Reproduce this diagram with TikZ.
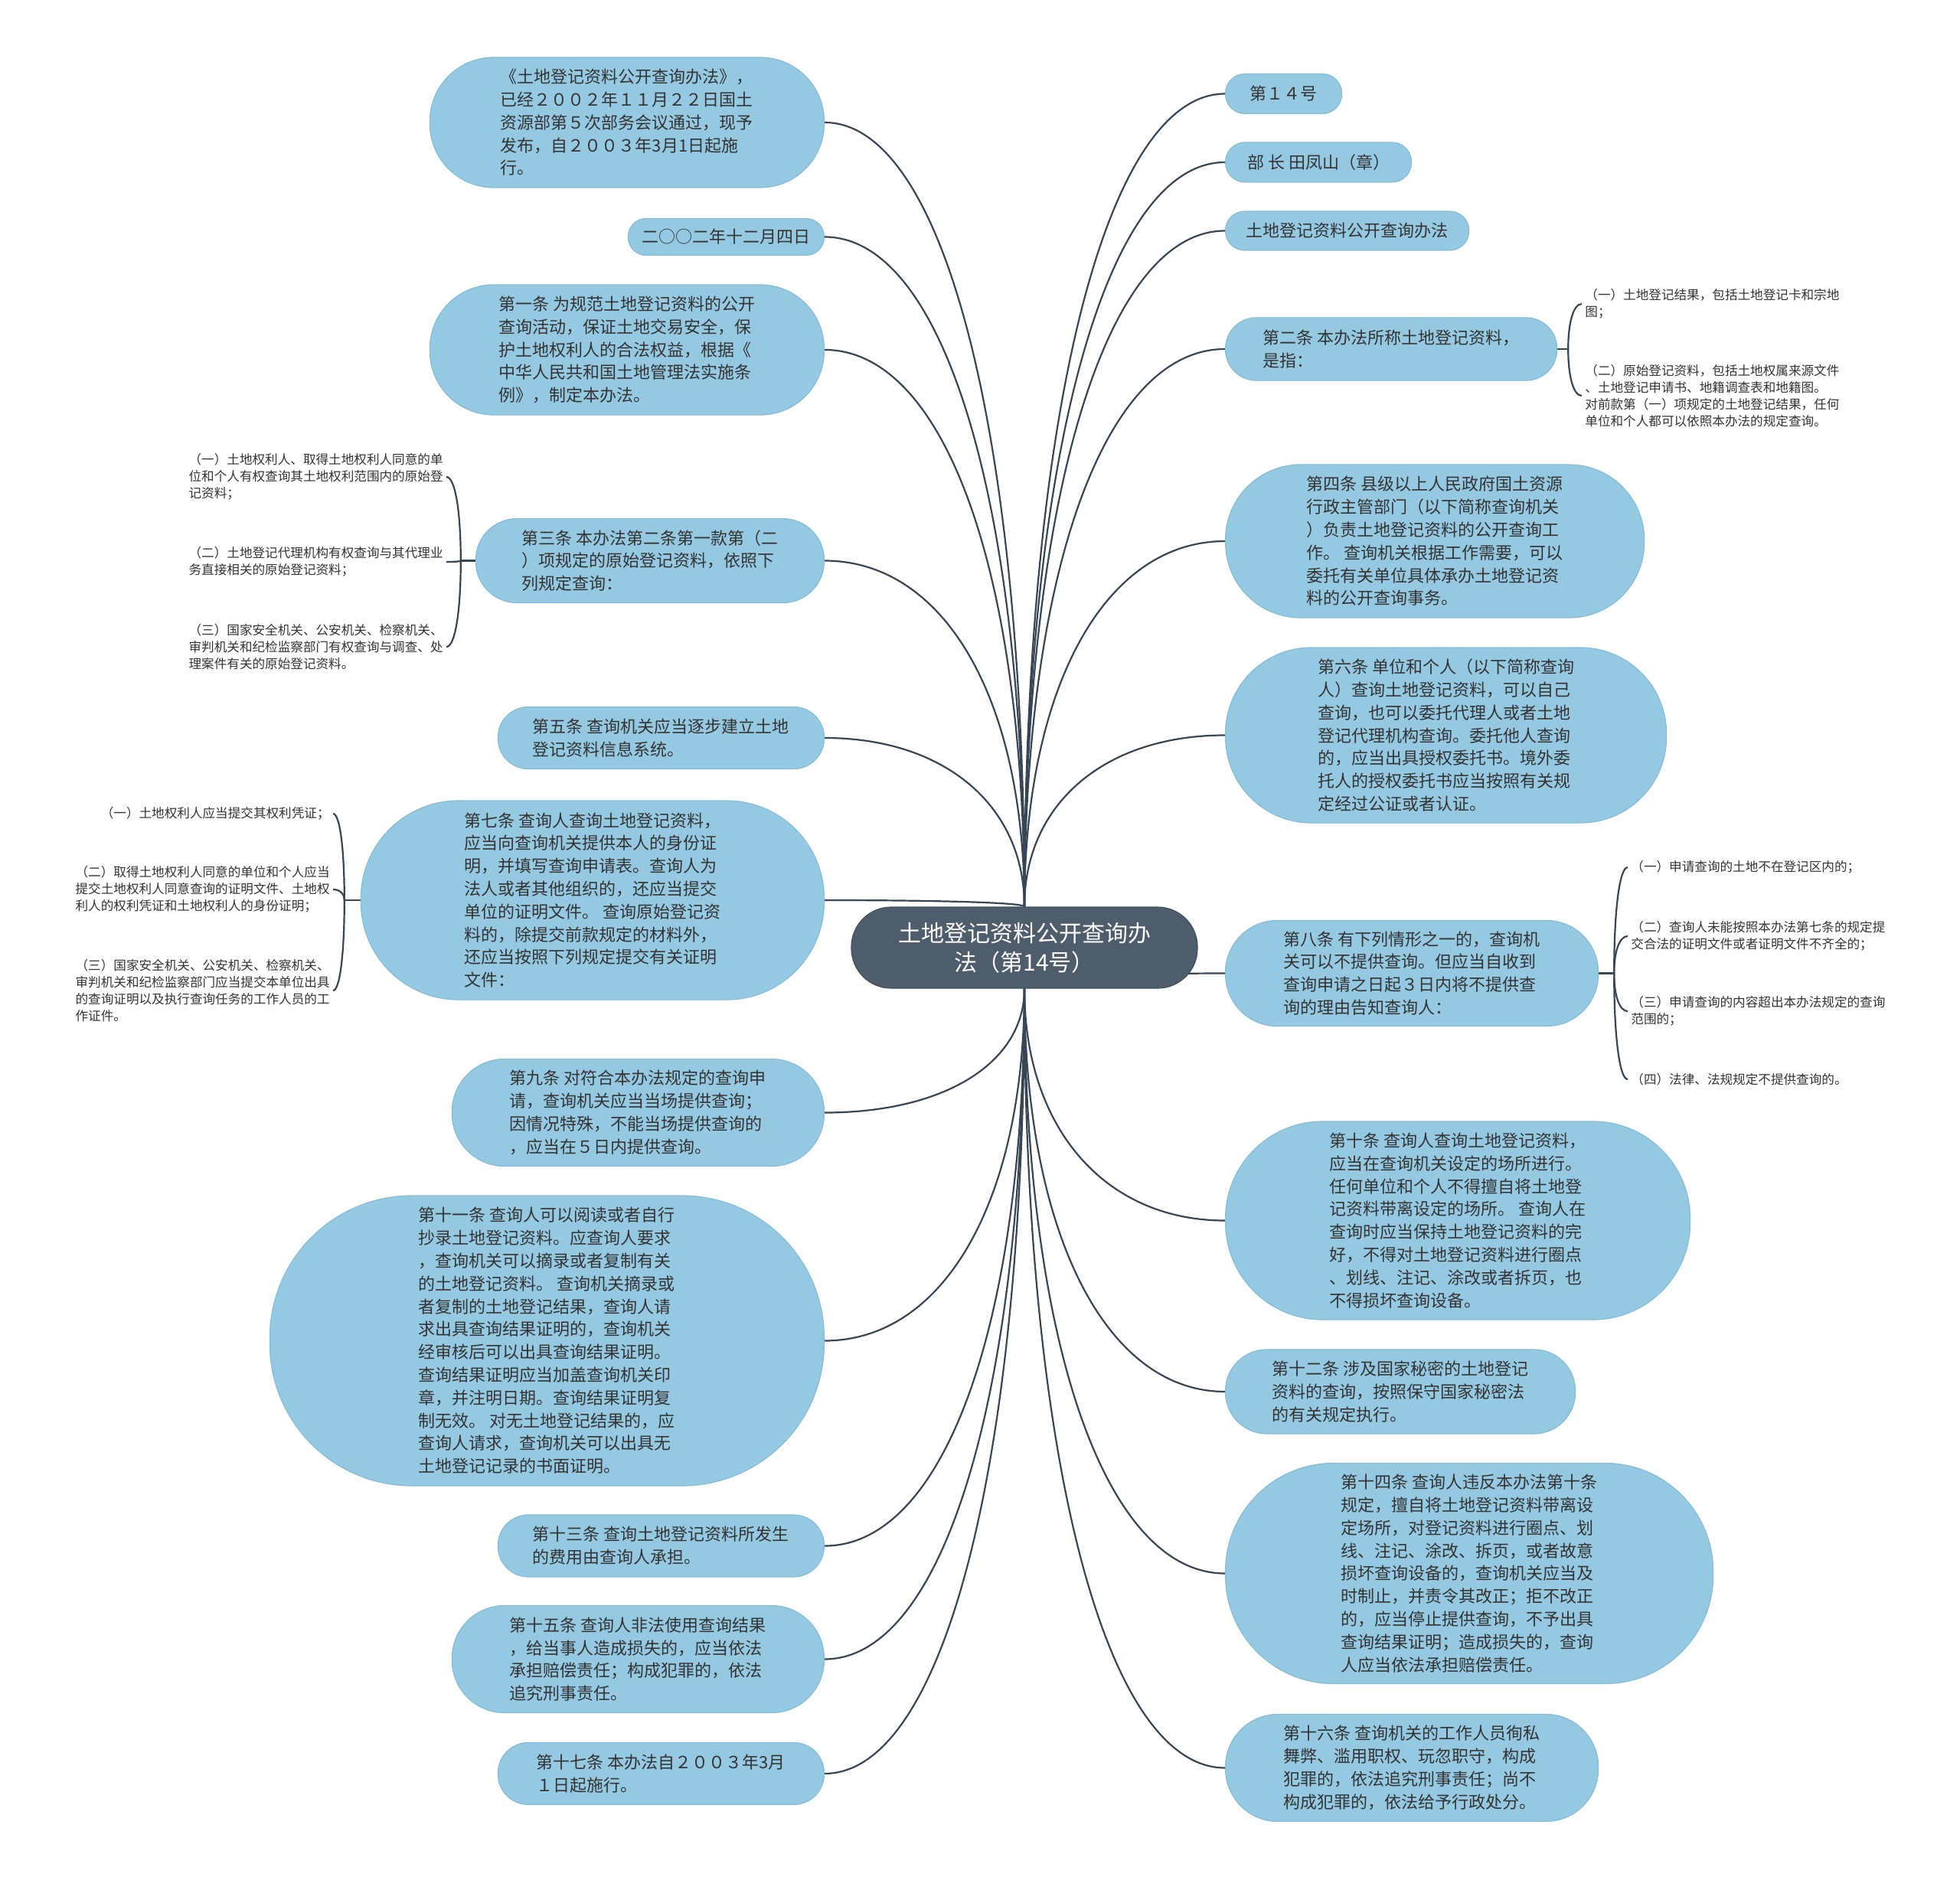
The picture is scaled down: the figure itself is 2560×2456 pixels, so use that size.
\documentclass[tikz,border=0pt]{standalone}
\usepackage{fontspec}
\setmainfont{Noto Sans CJK SC}
\usetikzlibrary{calc,backgrounds}
\definecolor{itemblue}{RGB}{149,201,226}
\definecolor{itemedge}{RGB}{133,189,218}
\definecolor{hubgray}{RGB}{78,93,108}
\definecolor{linkgray}{RGB}{55,70,84}
\definecolor{textgray}{RGB}{51,51,51}
\tikzset{
  pill/.style 2 args={rectangle, minimum width=#1*0.5pt, minimum height=#2*0.5pt, rounded corners=#2*0.245pt},
  item/.style={fill=itemblue, draw=itemedge, line width=0.6pt, text=textgray, align=left,
    inner xsep=0pt, inner ysep=2pt, font=\fontsize{11pt}{14.9pt}\selectfont},
  hub/.style={fill=hubgray, draw=hubgray!85!black, line width=0.6pt, text=white, align=center,
    inner xsep=0pt, inner ysep=2pt, font=\fontsize{15pt}{19pt}\selectfont},
  note/.style={text=textgray, align=left, inner sep=2pt, font=\fontsize{8.3pt}{10.9pt}\selectfont},
  link/.style={draw=linkgray, line width=1.1pt}
}
\newcommand{\twig}[2]{\draw[link] (#1) .. controls ($(#1)!0.6!(#1 |- #2)$) and ($(#2)!0.6!(#1 |- #2)$) .. (#2);}
\begin{document}
\begin{tikzpicture}[x=0.5pt,y=-0.5pt]
\useasboundingbox (0,0) rectangle (2560,2456);
% centre
\node[hub, pill={452}{106}] (root) at (1338,1238) {土地登记资料公开查询办\\法（第14号）};
% left column
\node[item, pill={515}{170}, anchor=east] (intro) at (1077,160) {《土地登记资料公开查询办法》，\\已经２００２年１１月２２日国土\\资源部第５次部务会议通过，现予\\发布，自２００３年3月1日起施\\行。};
\node[item, pill={256}{48}, anchor=east] (date) at (1077,309.5) {二○○二年十二月四日};
\node[item, pill={515}{170}, anchor=east] (art1) at (1077,457) {第一条 为规范土地登记资料的公开\\查询活动，保证土地交易安全，保\\护土地权利人的合法权益，根据《\\中华人民共和国土地管理法实施条\\例》，制定本办法。};
\node[item, pill={455}{110}, anchor=east] (art3) at (1077,732.5) {第三条 本办法第二条第一款第（二\\）项规定的原始登记资料，依照下\\列规定查询：};
\node[item, pill={426}{81}, anchor=east] (art5) at (1077,964) {第五条 查询机关应当逐步建立土地\\登记资料信息系统。};
\node[item, pill={605}{260}, anchor=east] (art7) at (1077,1176) {第七条 查询人查询土地登记资料，\\应当向查询机关提供本人的身份证\\明，并填写查询申请表。查询人为\\法人或者其他组织的，还应当提交\\单位的证明文件。 查询原始登记资\\料的，除提交前款规定的材料外，\\还应当按照下列规定提交有关证明\\文件：};
\node[item, pill={486}{140}, anchor=east] (art9) at (1077,1453.5) {第九条 对符合本办法规定的查询申\\请，查询机关应当当场提供查询；\\因情况特殊，不能当场提供查询的\\，应当在５日内提供查询。};
\node[item, pill={724}{379}, anchor=east] (art11) at (1077,1751.5) {第十一条 查询人可以阅读或者自行\\抄录土地登记资料。应查询人要求\\，查询机关可以摘录或者复制有关\\的土地登记资料。 查询机关摘录或\\者复制的土地登记结果，查询人请\\求出具查询结果证明的，查询机关\\经审核后可以出具查询结果证明。\\查询结果证明应当加盖查询机关印\\章，并注明日期。查询结果证明复\\制无效。 对无土地登记结果的，应\\查询人请求，查询机关可以出具无\\土地登记记录的书面证明。};
\node[item, pill={426}{81}, anchor=east] (art13) at (1077,2019.5) {第十三条 查询土地登记资料所发生\\的费用由查询人承担。};
\node[item, pill={486}{140}, anchor=east] (art15) at (1077,2167.5) {第十五条 查询人非法使用查询结果\\，给当事人造成损失的，应当依法\\承担赔偿责任；构成犯罪的，依法\\追究刑事责任。};
\node[item, pill={426}{81}, anchor=east] (art17) at (1077,2317) {第十七条 本办法自２００３年3月\\１日起施行。};
% right column
\node[item, pill={152}{52}, anchor=west] (no14) at (1600,122.5) {第１４号};
\node[item, pill={243}{52}, anchor=west] (minister) at (1600,212) {部 长 田凤山（章）};
\node[item, pill={318}{51}, anchor=west] (title) at (1600,301.5) {土地登记资料公开查询办法};
\node[item, pill={433}{82}, anchor=west] (art2) at (1600,456) {第二条 本办法所称土地登记资料，\\是指：};
\node[item, pill={547}{200}, anchor=west] (art4) at (1600,707) {第四条 县级以上人民政府国土资源\\行政主管部门（以下简称查询机关\\）负责土地登记资料的公开查询工\\作。 查询机关根据工作需要，可以\\委托有关单位具体承办土地登记资\\料的公开查询事务。};
\node[item, pill={576}{229}, anchor=west] (art6) at (1600,960.5) {第六条 单位和个人（以下简称查询\\人）查询土地登记资料，可以自己\\查询，也可以委托代理人或者土地\\登记代理机构查询。委托他人查询\\的，应当出具授权委托书。境外委\\托人的授权委托书应当按照有关规\\定经过公证或者认证。};
\node[item, pill={487}{138}, anchor=west] (art8) at (1600,1271.5) {第八条 有下列情形之一的，查询机\\关可以不提供查询。但应当自收到\\查询申请之日起３日内将不提供查\\询的理由告知查询人：};
\node[item, pill={607}{259}, anchor=west] (art10) at (1600,1594.5) {第十条 查询人查询土地登记资料，\\应当在查询机关设定的场所进行。\\任何单位和个人不得擅自将土地登\\记资料带离设定的场所。 查询人在\\查询时应当保持土地登记资料的完\\好，不得对土地登记资料进行圈点\\、划线、注记、涂改或者拆页，也\\不得损坏查询设备。};
\node[item, pill={457}{110}, anchor=west] (art12) at (1600,1818) {第十二条 涉及国家秘密的土地登记\\资料的查询，按照保守国家秘密法\\的有关规定执行。};
\node[item, pill={637}{288}, anchor=west] (art14) at (1600,2055.5) {第十四条 查询人违反本办法第十条\\规定，擅自将土地登记资料带离设\\定场所，对登记资料进行圈点、划\\线、注记、涂改、拆页，或者故意\\损坏查询设备的，查询机关应当及\\时制止，并责令其改正；拒不改正\\的，应当停止提供查询，不予出具\\查询结果证明；造成损失的，查询\\人应当依法承担赔偿责任。};
\node[item, pill={487}{140}, anchor=west] (art16) at (1600,2309.5) {第十六条 查询机关的工作人员徇私\\舞弊、滥用职权、玩忽职守，构成\\犯罪的，依法追究刑事责任；尚不\\构成犯罪的，依法给予行政处分。};
% details of art2, art3, art7, art8
\node[note, anchor=west] (c2a) at (2066,397) {（一）土地登记结果，包括土地登记卡和宗地\\图；};
\node[note, anchor=west] (c2b) at (2066,517) {（二）原始登记资料，包括土地权属来源文件\\、土地登记申请书、地籍调查表和地籍图。\\对前款第（一）项规定的土地登记结果，任何\\单位和个人都可以依照本办法的规定查询。};
\node[note, anchor=east] (c3a) at (583,623) {（一）土地权利人、取得土地权利人同意的单\\位和个人有权查询其土地权利范围内的原始登\\记资料；};
\node[note, anchor=east] (c3b) at (583,734) {（二）土地登记代理机构有权查询与其代理业\\务直接相关的原始登记资料；};
\node[note, anchor=east] (c3c) at (583,845) {（三）国家安全机关、公安机关、检察机关、\\审判机关和纪检监察部门有权查询与调查、处\\理案件有关的原始登记资料。};
\node[note, anchor=east] (c7a) at (435,1063) {（一）土地权利人应当提交其权利凭证；};
\node[note, anchor=east] (c7b) at (435,1162) {（二）取得土地权利人同意的单位和个人应当\\提交土地权利人同意查询的证明文件、土地权\\利人的权利凭证和土地权利人的身份证明；};
\node[note, anchor=east] (c7c) at (435,1294) {（三）国家安全机关、公安机关、检察机关、\\审判机关和纪检监察部门应当提交本单位出具\\的查询证明以及执行查询任务的工作人员的工\\作证件。};
\node[note, anchor=west] (c8a) at (2126,1133) {（一）申请查询的土地不在登记区内的；};
\node[note, anchor=west] (c8b) at (2126,1223) {（二）查询人未能按照本办法第七条的规定提\\交合法的证明文件或者证明文件不齐全的；};
\node[note, anchor=west] (c8c) at (2126,1321) {（三）申请查询的内容超出本办法规定的查询\\范围的；};
\node[note, anchor=west] (c8d) at (2126,1410) {（四）法律、法规规定不提供查询的。};
\coordinate (j2) at ([xshift=7pt]art2.east);
\coordinate (j3) at ([xshift=-9.5pt]art3.west);
\coordinate (j7) at ([xshift=-10.5pt]art7.west);
\coordinate (j8) at ([xshift=10pt]art8.east);
% connectors
\begin{scope}[on background layer]
\fill[white] (0,0) rectangle (2560,2456);
\foreach \n in {no14,minister,title,art2,art4,art6} {\twig{root.north}{\n.west}}
\foreach \n in {intro,date,art1,art3,art5,art7} {\twig{root.north}{\n.east}}
\foreach \n in {art8,art10,art12,art14,art16} {\twig{root.south}{\n.west}}
\foreach \n in {art9,art11,art13,art15,art17} {\twig{root.south}{\n.east}}
\draw[link] (art2.east) -- (j2);
\foreach \n in {c2a,c2b} {\twig{j2}{\n.west}}
\draw[link] (art3.west) -- (j3);
\foreach \n in {c3a,c3b,c3c} {\twig{j3}{\n.east}}
\draw[link] (art7.west) -- (j7);
\foreach \n in {c7a,c7b,c7c} {\twig{j7}{\n.east}}
\draw[link] (art8.east) -- (j8);
\foreach \n in {c8a,c8b,c8c,c8d} {\twig{j8}{\n.west}}
\end{scope}
\end{tikzpicture}
\end{document}
